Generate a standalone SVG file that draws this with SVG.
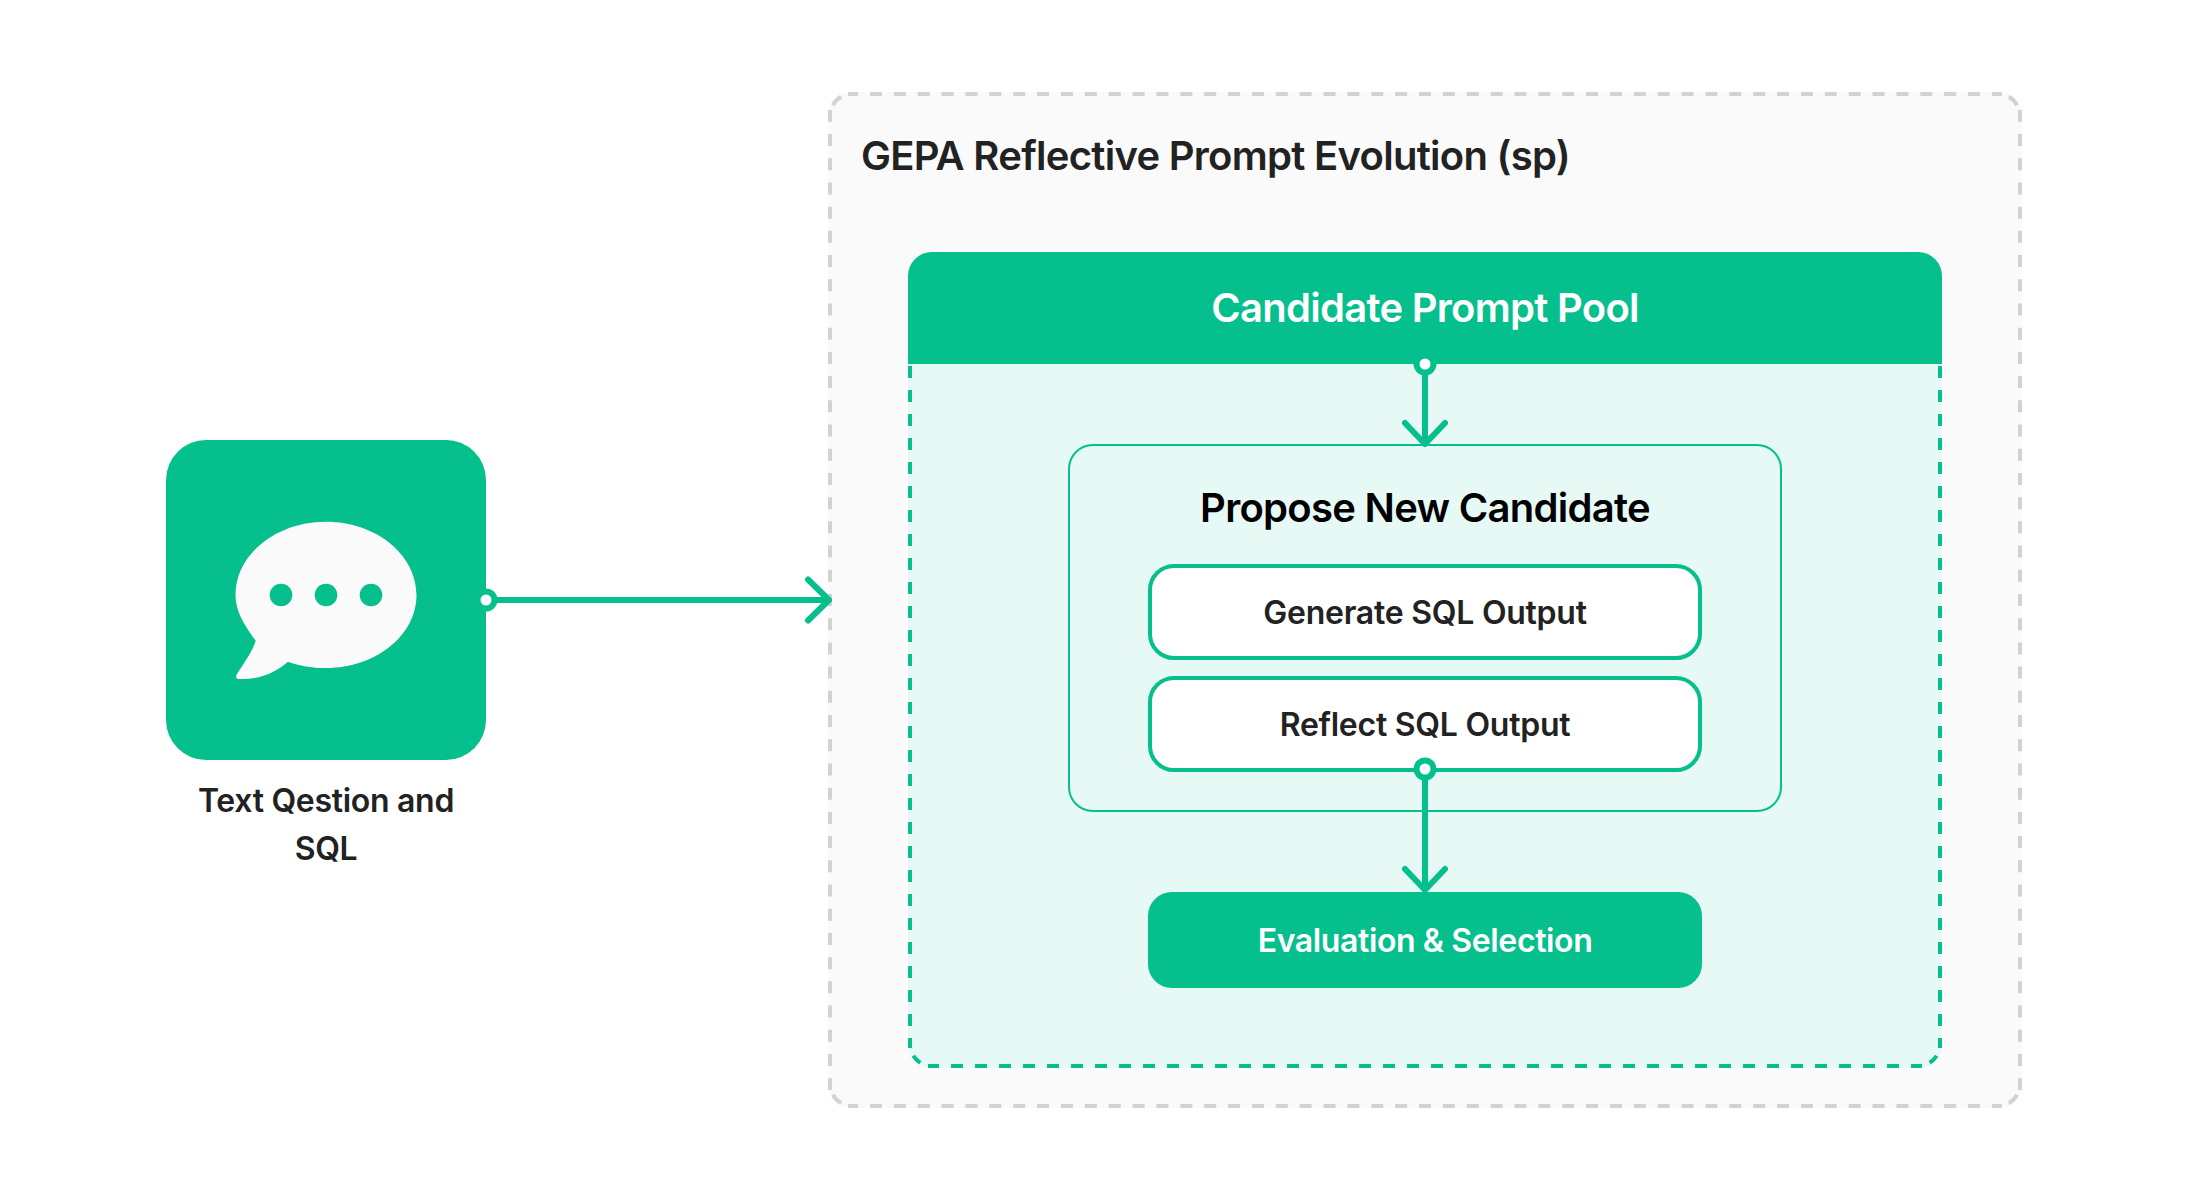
<svg xmlns="http://www.w3.org/2000/svg" width="2188" height="1200" viewBox="0 0 2188 1200">
<defs>
<style>
text{font-family:"Inter","Liberation Sans",sans-serif;text-anchor:middle}
.t40{font-size:40px;font-weight:600;letter-spacing:-0.72px}
.t32{font-size:32px;font-weight:600;letter-spacing:-0.25px}
.dark{fill:#222222}
.white{fill:#ffffff}
.conn{fill:none;stroke:#05BF8D;stroke-width:6;stroke-linecap:round;stroke-linejoin:round}
.port{fill:#ffffff;stroke:#05BF8D;stroke-width:6}
.inner{fill:#ffffff;stroke:#05BF8D;stroke-width:4}
.grey{fill:none;stroke:#D2D2D2;stroke-width:4}
.green{fill:none;stroke:#05BF8D;stroke-width:4}
</style>
</defs>
<rect width="2188" height="1200" fill="#ffffff"/>
<g id="container">
<rect x="828" y="92" width="1194" height="1016" rx="24" fill="#FAFAFA"/>
<path class="grey" stroke-dasharray="12 11.87" stroke-dashoffset="1.87" d="M848 94H2002"/>
<path class="grey" stroke-dasharray="12 11.87" stroke-dashoffset="1.87" d="M848 1106H2002"/>
<path class="grey" stroke-dasharray="12 12.21" stroke-dashoffset="0.21" d="M830 110V1090"/>
<path class="grey" stroke-dasharray="12 12.21" stroke-dashoffset="0.21" d="M2020 110V1090"/>
<path class="grey" d="M832.800 105.200A22 22 0 0 1 841.200 96.800M2008.800 96.800A22 22 0 0 1 2017.200 105.200M2017.200 1094.800A22 22 0 0 1 2008.800 1103.200M841.200 1103.200A22 22 0 0 1 832.800 1094.800"/>
<text class="t40 dark" x="861" y="170" style="text-anchor:start">GEPA Reflective Prompt Evolution (sp)</text>
</g>
<g id="pool">
<path d="M908 364V1044a24 24 0 0 0 24 24H1918a24 24 0 0 0 24-24V364Z" fill="#E6F9F4"/>
<path class="green" stroke-dasharray="12 12" d="M910 366V1048"/>
<path class="green" stroke-dasharray="12 12" d="M1940 366V1048"/>
<path class="green" stroke-dasharray="12 12" stroke-dashoffset="1" d="M928 1066H1922"/>
<path class="green" d="M913.300 1055.700A22 22 0 0 0 920.300 1062.700M1929.700 1062.700A22 22 0 0 0 1936.700 1055.700"/>
<path d="M908 364V276a24 24 0 0 1 24-24H1918a24 24 0 0 1 24 24V364Z" fill="#05BF8D"/>
<text class="t40 white" x="1425" y="322">Candidate Prompt Pool</text>
</g>
<g id="question">
<rect x="166" y="440" width="320" height="320" rx="40" fill="#05BF8D"/>
<path d="M255.700 640.700C243 624 235.500 610 235.500 595C235.500 554.700 276 521.700 326 521.700C376 521.700 416.500 554.700 416.500 595C416.500 635.300 376 668 326 668C312 668 299 665.700 288 661.700C275 673 258 680 239 679C235.500 679 235.500 676.500 237 674C246 660 253 650 255.700 640.700Z" fill="#FAFAFA"/>
<circle cx="281" cy="595" r="11.300" fill="#05BF8D"/>
<circle cx="326" cy="595" r="11.300" fill="#05BF8D"/>
<circle cx="371" cy="595" r="11.300" fill="#05BF8D"/>
<text class="t32 dark" x="326" y="812" style="letter-spacing:-0.3px">Text Qestion and</text>
<text class="t32 dark" x="326" y="860" style="letter-spacing:-0.3px">SQL</text>
</g>
<g id="propose">
<rect x="1069" y="445" width="712" height="366" rx="24" fill="#E6F9F4" stroke="#05BF8D" stroke-width="2"/>
<text class="t40" x="1425" y="522" fill="#000000">Propose New Candidate</text>
</g>
<g id="generate">
<rect class="inner" x="1150" y="566" width="550" height="92" rx="24"/>
<text class="t32 dark" x="1425" y="624">Generate SQL Output</text>
</g>
<g id="reflect">
<rect class="inner" x="1150" y="678" width="550" height="92" rx="24"/>
<text class="t32 dark" x="1425" y="736">Reflect SQL Output</text>
</g>
<g id="evaluation">
<rect x="1148" y="892" width="554" height="96" rx="24" fill="#05BF8D"/>
<text class="t32 white" x="1425" y="952" style="letter-spacing:-0.38px">Evaluation &amp; Selection</text>
</g>
<g id="connectors">
<path class="conn" d="M486 600H829M808 579.500L829 600L808 620.500"/>
<path class="conn" d="M1425 364V444M1405 423L1425 444L1445 423"/>
<path class="conn" d="M1425 770V890M1405 869L1425 890L1445 869"/>
<circle class="port" cx="486" cy="600" r="8.500"/>
<circle class="port" cx="1425" cy="364" r="8.500"/>
<circle class="port" cx="1425" cy="769" r="8.500"/>
</g>
</svg>
